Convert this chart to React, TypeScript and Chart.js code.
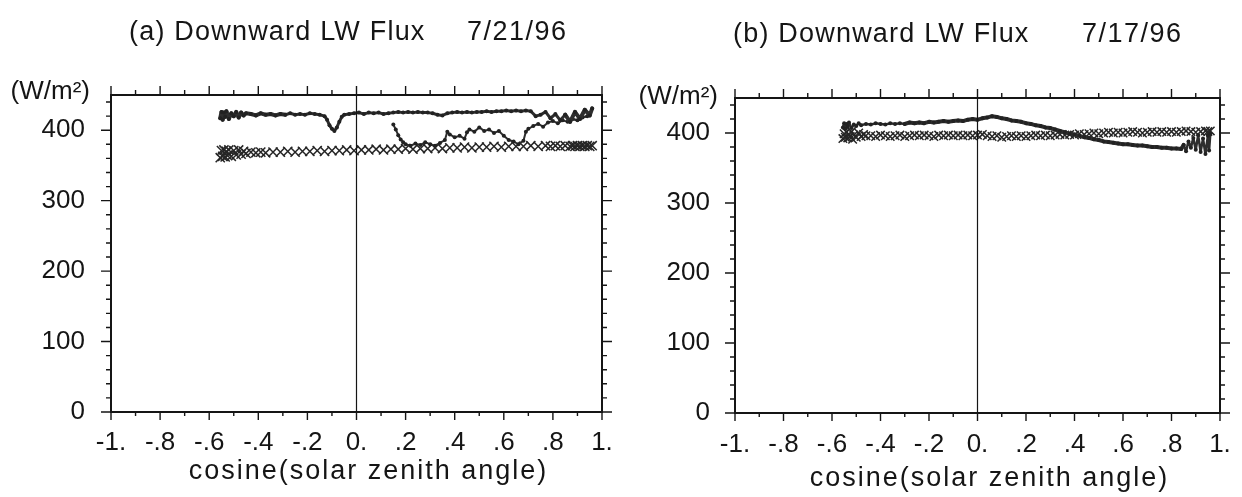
import React, { useEffect, useRef } from "react";
import { Chart, registerables } from "chart.js";

Chart.register(...registerables);

const FONT_FAMILY = "'Liberation Sans', Arial, Helvetica, sans-serif";
const INK = "#151515";

// ---- axes ----
const X_TICKS = [-1, -0.8, -0.6, -0.4, -0.2, 0, 0.2, 0.4, 0.6, 0.8, 1];
const X_TICK_LABELS = ["-1.", "-.8", "-.6", "-.4", "-.2", "0.", ".2", ".4", ".6", ".8", "1."];
const X_MINOR = [-1, -0.9, -0.8, -0.7, -0.6, -0.5, -0.4, -0.3, -0.2, -0.1, 0, 0.1, 0.2, 0.3, 0.4, 0.5, 0.6, 0.7, 0.8, 0.9, 1];
const Y_TICKS = [0, 100, 200, 300, 400];
const Y_TICK_LABELS = ["0", "100", "200", "300", "400"];
const Y_MINOR = [0, 20, 40, 60, 80, 100, 120, 140, 160, 180, 200, 220, 240, 260, 280, 300, 320, 340, 360, 380, 400, 420, 440];

const TITLE_A = "(a) Downward LW Flux";
const DATE_A = "7/21/96";
const TITLE_B = "(b) Downward LW Flux";
const DATE_B = "7/17/96";
const UNIT = "(W/m²)";
const X_TITLE = "cosine(solar zenith angle)";

// ---- panel (a) 7/21/96 ----
const A_UP_X = [
  -0.555, -0.55, -0.545, -0.54, -0.535, -0.53, -0.52, -0.51, -0.5, -0.49, -0.48, -0.47, -0.46, -0.45,
  -0.43, -0.41, -0.39, -0.37, -0.35, -0.33, -0.31, -0.29, -0.27, -0.25, -0.23, -0.21, -0.19, -0.17, -0.15,
  -0.13, -0.12, -0.11, -0.1, -0.09, -0.08, -0.07, -0.06, -0.05,
  -0.03, -0.01, 0.01, 0.03, 0.05, 0.07, 0.09, 0.11, 0.13, 0.15,
  0.17, 0.19, 0.21, 0.23, 0.25, 0.27, 0.29, 0.31, 0.33, 0.35,
  0.37, 0.39, 0.41, 0.43, 0.45, 0.47, 0.49, 0.51, 0.53, 0.55,
  0.57, 0.59, 0.61, 0.63, 0.65, 0.67, 0.69, 0.71, 0.73, 0.75,
  0.77, 0.79, 0.81, 0.83, 0.85, 0.87, 0.89, 0.91, 0.93, 0.95, 0.96,
];
const A_UP_Y = [
  417, 426, 415, 425, 419, 427, 416, 424, 420, 426, 418, 425, 421, 424,
  423, 421, 424, 422, 423, 421, 423, 422, 424, 422, 423, 422, 424, 423, 422,
  420, 415, 407, 402, 399, 404, 412, 419, 422,
  423, 424, 425, 423, 425, 424, 425, 423, 424, 425,
  426, 425, 426, 425, 426, 425, 425, 424, 422, 421,
  424, 425, 426, 425, 426, 425, 426, 426, 427, 426,
  427, 427, 428, 427, 428, 427, 428, 427, 420, 422,
  426, 417, 423, 414, 422, 412, 426, 416, 429, 421, 431,
];
const A_MID_X = [
  0.15, 0.16, 0.17, 0.18, 0.19, 0.2, 0.22, 0.24, 0.26, 0.28, 0.3, 0.32, 0.34, 0.36,
  0.37, 0.38, 0.4, 0.42, 0.44, 0.45, 0.46,
  0.48, 0.5, 0.52, 0.54, 0.56, 0.58, 0.6, 0.62, 0.64, 0.66, 0.68,
  0.69, 0.7, 0.72, 0.74, 0.76, 0.78, 0.8, 0.82, 0.84, 0.86, 0.88, 0.9, 0.92, 0.94, 0.95,
];
const A_MID_Y = [
  408, 401, 393, 387, 383, 380, 378, 381, 379, 383, 380, 378, 382, 386,
  398, 394, 390, 392, 388, 397, 401,
  398, 404, 399, 401, 396, 399, 392, 386, 384, 380, 385,
  398, 402, 406, 409, 405, 411, 413, 410, 414, 412, 416, 414, 418, 420, 423,
];
const A_CROSS_X = [
  -0.555, -0.55, -0.545, -0.54, -0.535, -0.53, -0.525, -0.52, -0.51, -0.5, -0.49, -0.48, -0.47, -0.46, -0.45,
  -0.43, -0.41, -0.39, -0.37, -0.34, -0.31, -0.28, -0.25, -0.22, -0.19, -0.16, -0.13, -0.1, -0.07, -0.04, -0.01,
  0.02, 0.05, 0.08, 0.11, 0.14, 0.17, 0.2, 0.23, 0.26, 0.29, 0.32, 0.35, 0.38, 0.41, 0.44, 0.47, 0.5, 0.53,
  0.56, 0.59, 0.62, 0.65, 0.68, 0.71, 0.74, 0.77, 0.79, 0.81, 0.83, 0.85, 0.87,
  0.88, 0.89, 0.9, 0.91, 0.92, 0.93, 0.94, 0.95, 0.96,
];
const A_CROSS_Y = [
  361, 371, 363, 372, 362, 370, 364, 372, 363, 371, 365, 372, 366, 370, 367,
  369, 368, 369, 368, 369, 369, 370, 369, 370, 370, 371, 370, 371, 371, 372, 371,
  372, 372, 373, 372, 373, 373, 374, 373, 374, 374, 375, 374, 375, 375, 376, 375, 376, 376,
  377, 376, 377, 377, 377, 378, 377, 378, 377, 378, 377, 378, 377,
  378, 377, 378, 377, 378, 377, 378, 377, 378,
];

// ---- panel (b) 7/17/96 ----
const B_DOT_X = [
  -0.555, -0.55, -0.545, -0.54, -0.535, -0.53, -0.52, -0.51, -0.5, -0.49, -0.48,
  -0.46, -0.44, -0.42, -0.4, -0.38, -0.36, -0.34, -0.32, -0.3, -0.28, -0.26, -0.24, -0.22,
  -0.2, -0.18, -0.16, -0.14, -0.12, -0.1, -0.08, -0.06, -0.04, -0.02, 0, 0.02, 0.04,
  0.06, 0.08, 0.1, 0.12, 0.14, 0.16, 0.18, 0.2, 0.22, 0.24,
  0.26, 0.28, 0.3, 0.32, 0.34, 0.36, 0.38, 0.4, 0.42, 0.44,
  0.46, 0.48, 0.5, 0.52, 0.54, 0.56, 0.58, 0.6, 0.62, 0.64,
  0.66, 0.68, 0.7, 0.72, 0.74, 0.76, 0.78, 0.8, 0.82, 0.84,
  0.85, 0.86, 0.87, 0.88, 0.89, 0.9, 0.91, 0.92, 0.93, 0.94, 0.95, 0.955, 0.96,
];
const B_DOT_Y = [
  408, 414, 406, 413, 409, 415, 407, 412, 410, 414, 411,
  413, 412, 414, 413, 412, 414, 413, 414, 413, 415, 414, 415, 414,
  416, 415, 416, 417, 416, 417, 418, 417, 419, 420, 419, 421, 422,
  424, 423, 421, 420, 418, 417, 416, 414, 413, 411,
  410, 408, 407, 405, 403, 401, 399, 398, 396, 394,
  393, 391, 390, 388, 387, 386, 385, 384, 384, 383,
  382, 382, 381, 380, 380, 379, 379, 378, 378, 377,
  383, 374, 388, 379, 393, 376, 397, 373, 392, 370, 396, 375, 399,
];
const B_CROSS_X = [
  -0.555, -0.55, -0.545, -0.54, -0.535, -0.53, -0.525, -0.52, -0.515, -0.51, -0.5, -0.49, -0.48, -0.47, -0.46,
  -0.44, -0.42, -0.4, -0.38, -0.36, -0.34, -0.32, -0.3, -0.28, -0.26,
  -0.24, -0.22, -0.2, -0.18, -0.16, -0.14, -0.12, -0.1, -0.08, -0.06,
  -0.04, -0.02, 0, 0.02, 0.04, 0.06, 0.08, 0.1, 0.12, 0.14,
  0.16, 0.18, 0.2, 0.22, 0.24, 0.26, 0.28, 0.3, 0.32, 0.34,
  0.36, 0.38, 0.4, 0.42, 0.44, 0.46, 0.48, 0.5, 0.52, 0.54,
  0.56, 0.58, 0.6, 0.62, 0.64, 0.66, 0.68, 0.7, 0.72, 0.74,
  0.76, 0.78, 0.8, 0.82, 0.84, 0.86, 0.88, 0.9, 0.92, 0.94,
  0.95, 0.96,
];
const B_CROSS_Y = [
  392, 399, 394, 401, 393, 398, 395, 402, 391, 397, 394, 400, 395, 398, 396,
  396, 395, 397, 396, 395, 396, 397, 395, 396, 397,
  396, 397, 396, 395, 397, 396, 397, 396, 397, 396,
  397, 396, 397, 398, 396, 395, 396, 394, 395, 396,
  395, 396, 395, 396, 397, 396, 397, 396, 397, 398,
  397, 398, 397, 399, 398, 399, 400, 399, 400, 401,
  400, 401, 400, 401, 402, 401, 400, 401, 402, 401,
  402, 401, 402, 401, 402, 403, 402, 401, 402, 403,
  402, 403,
];

function zip(xs: number[], ys: number[]) {
  const n = Math.min(xs.length, ys.length);
  const out: { x: number; y: number }[] = [];
  for (let i = 0; i < n; i++) out.push({ x: xs[i], y: ys[i] });
  return out;
}

type Geo = {
  left: number; right: number; top: number; bottom: number;
  titleX: number; dateX: number; titleY: number;
  unitRight: number; unitY: number;
  axisTitleDx: number; axisTitleY: number;
  yPad: number; xPad: number;
  title: string; date: string;
};

const W = 621;
const H = 497;

const GEO_A: Geo = {
  left: 111, right: 602, top: 95, bottom: 412,
  titleX: 129, dateX: 467, titleY: 33,
  unitRight: 90, unitY: 92,
  axisTitleDx: 12, axisTitleY: 472,
  yPad: 18, xPad: 7,
  title: TITLE_A, date: DATE_A,
};
const GEO_B: Geo = {
  left: 114, right: 599, top: 98, bottom: 413,
  titleX: 112, dateX: 461, titleY: 35,
  unitRight: 97, unitY: 97,
  axisTitleDx: 12, axisTitleY: 479,
  yPad: 17, xPad: 8,
  title: TITLE_B, date: DATE_B,
};

function font(size: number) {
  return `${size}px ${FONT_FAMILY}`;
}

function makeDecor(g: Geo) {
  return {
    id: "decor",
    afterDraw(chart: any) {
      const { ctx, chartArea: a } = chart;
      const xs = chart.scales.x;
      const ys = chart.scales.y;
      ctx.save();
      ctx.strokeStyle = INK;
      ctx.lineWidth = 1.4;
      ctx.beginPath();
      X_MINOR.forEach((v, i) => {
        const px = xs.getPixelForValue(v);
        const major = i % 2 === 0;
        const lb = major ? 8 : 4;
        const lt = major ? 9 : 5;
        ctx.moveTo(px, a.bottom);
        ctx.lineTo(px, a.bottom + lb);
        ctx.moveTo(px, a.top);
        ctx.lineTo(px, a.top - lt);
      });
      Y_MINOR.forEach((v) => {
        const py = ys.getPixelForValue(v);
        const major = v % 100 === 0;
        const l = major ? 10 : 5;
        ctx.moveTo(a.left, py);
        ctx.lineTo(a.left - l, py);
        ctx.moveTo(a.right, py);
        ctx.lineTo(a.right + l, py);
      });
      ctx.stroke();
      ctx.lineWidth = 2;
      ctx.strokeRect(a.left, a.top, a.right - a.left, a.bottom - a.top);
      ctx.lineWidth = 1.2;
      const x0 = xs.getPixelForValue(0);
      ctx.beginPath();
      ctx.moveTo(x0, a.top);
      ctx.lineTo(x0, a.bottom);
      ctx.stroke();

      ctx.fillStyle = INK;
      ctx.textBaseline = "middle";
      ctx.font = font(27);
      ctx.textAlign = "left";
      (ctx as any).letterSpacing = "1.2px";
      ctx.fillText(g.title, g.titleX, g.titleY);
      (ctx as any).letterSpacing = "1.5px";
      ctx.fillText(g.date, g.dateX, g.titleY);
      (ctx as any).letterSpacing = "0px";
      ctx.font = font(26);
      ctx.textAlign = "right";
      ctx.fillText(UNIT, g.unitRight, g.unitY);
      ctx.font = font(27);
      ctx.textAlign = "center";
      (ctx as any).letterSpacing = "2px";
      ctx.fillText(X_TITLE, (a.left + a.right) / 2 + g.axisTitleDx, g.axisTitleY);
      (ctx as any).letterSpacing = "0px";
      ctx.restore();
    },
  };
}

function makeConfig(g: Geo, datasets: any[]): any {
  return {
    type: "scatter",
    data: { datasets },
    options: {
      animation: false,
      responsive: false,
      devicePixelRatio: 1,
      layout: { padding: { top: g.top, right: W - g.right, left: 0, bottom: 0 } },
      plugins: { legend: { display: false }, tooltip: { enabled: false }, title: { display: false } },
      elements: { line: { tension: 0 } },
      scales: {
        x: {
          type: "linear",
          min: -1,
          max: 1,
          afterBuildTicks: (s: any) => {
            s.ticks = X_TICKS.map((v) => ({ value: v }));
          },
          afterFit: (s: any) => {
            s.height = H - g.bottom;
          },
          grid: { display: false },
          border: { display: false },
          ticks: {
            padding: g.xPad,
            autoSkip: false,
            maxRotation: 0,
            color: INK,
            font: { family: FONT_FAMILY, size: 26 },
            callback: (_v: any, i: number) => X_TICK_LABELS[i],
          },
        },
        y: {
          type: "linear",
          min: 0,
          max: 450,
          afterBuildTicks: (s: any) => {
            s.ticks = Y_TICKS.map((v) => ({ value: v }));
          },
          afterFit: (s: any) => {
            s.width = g.left;
          },
          grid: { display: false },
          border: { display: false },
          ticks: {
            padding: g.yPad,
            color: INK,
            font: { family: FONT_FAMILY, size: 26 },
            callback: (_v: any, i: number) => Y_TICK_LABELS[i],
          },
        },
      },
    },
    plugins: [makeDecor(g)],
  };
}

// thicker band where the record is dense (near the ends of the cos range)
const dotSet = (data: any[], w: number, wide: number) => ({
  data,
  showLine: true,
  borderColor: "#2e2e2e",
  borderWidth: w,
  borderJoinStyle: "round",
  borderCapStyle: "round",
  segment: {
    borderWidth: (c: any) => (c.p0.parsed.x < -0.3 || c.p0.parsed.x > 0.84 ? wide : w),
  },
  pointRadius: 2,
  pointBackgroundColor: "#222",
  pointBorderWidth: 0,
});
const crossSet = (data: any[], r: number) => ({
  data,
  showLine: false,
  pointStyle: "crossRot",
  pointRadius: r,
  pointBorderColor: "#262626",
  pointBorderWidth: 1.5,
  pointBackgroundColor: "#222",
});

export default function App() {
  const refA = useRef<HTMLCanvasElement>(null);
  const refB = useRef<HTMLCanvasElement>(null);

  useEffect(() => {
    const chartA = new Chart(
      refA.current as HTMLCanvasElement,
      makeConfig(GEO_A, [
        dotSet(zip(A_UP_X, A_UP_Y), 3, 4),
        dotSet(zip(A_MID_X, A_MID_Y), 2, 2.5),
        crossSet(zip(A_CROSS_X, A_CROSS_Y), 6.5),
      ])
    );
    const chartB = new Chart(
      refB.current as HTMLCanvasElement,
      makeConfig(GEO_B, [
        dotSet(zip(B_DOT_X, B_DOT_Y), 4, 2.5),
        crossSet(zip(B_CROSS_X, B_CROSS_Y), 6),
      ])
    );
    return () => {
      chartA.destroy();
      chartB.destroy();
    };
  }, []);

  return (
    <div style={{ position: "fixed", left: 0, top: 0, width: 1242, height: 497, background: "#fff" }}>
      <canvas ref={refA} width={W} height={H} style={{ position: "absolute", left: 0, top: 0, width: W, height: H }} />
      <canvas ref={refB} width={W} height={H} style={{ position: "absolute", left: 621, top: 0, width: W, height: H }} />
    </div>
  );
}
